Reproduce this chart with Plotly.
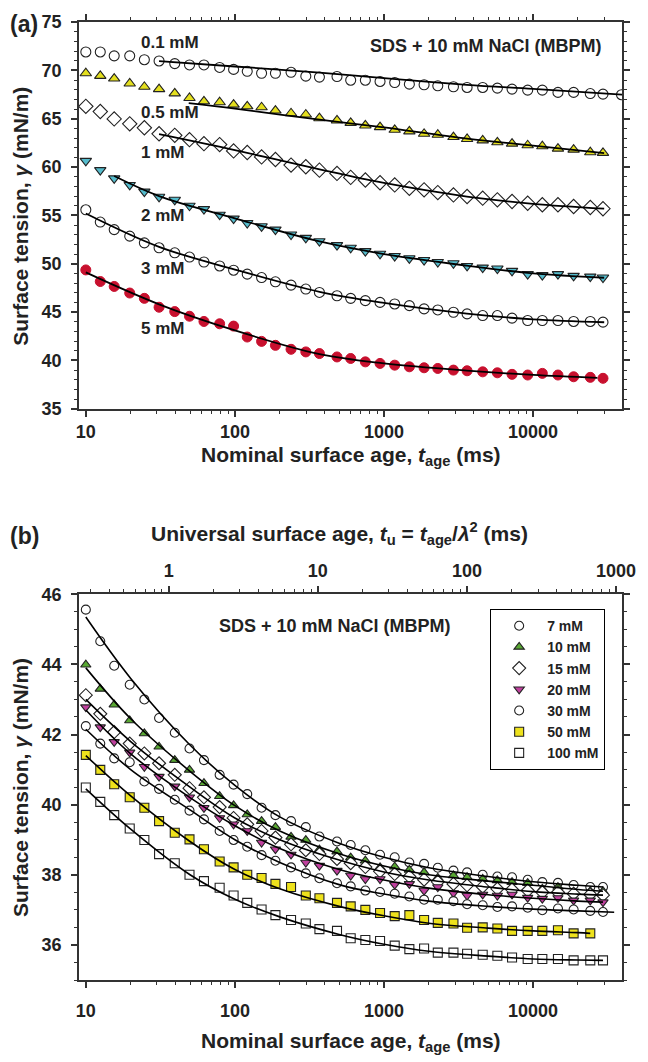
import math
import plotly.graph_objects as go

# ---------------- data ----------------
# common nominal surface-age grid (ms)
T_AGE = [10, 12.5, 15.5, 19.7, 24.7, 31, 39.5, 49.6, 62, 79, 98, 121, 151, 187, 238, 299,
         369, 484, 598, 750, 941, 1180, 1480, 1858, 2296, 2924, 3610, 4594, 5762, 7228,
         9202, 11540, 14690, 18710, 24200, 29450, 39200]
LAMBDA_SQ = 36.0

# panel (a): SDS 0.1 - 5 mM
A_01 = [71.9, 71.9, 71.5, 71.5, 71.1, 70.97, 70.7, 70.56, 70.56, 70.3, 70.1, 69.9, 69.7, 69.7,
        69.8, 69.4, 69.3, 69.36, 68.98, 68.98, 68.85, 68.74, 68.57, 68.51, 68.4, 68.3, 68.23,
        68.23, 68.16, 68.06, 67.95, 67.95, 67.72, 67.72, 67.6, 67.54, 67.48]
A_05 = [69.7, 69.43, 69.15, 68.64, 68.3, 68.06, 67.62, 67.14, 66.8, 66.7, 66.46, 66.28, 66.18,
        65.84, 65.56, 65.43, 65.05, 64.82, 64.57, 64.3, 64.13, 63.85, 63.69, 63.44, 63.34,
        63.1, 62.9, 62.76, 62.56, 62.42, 62.25, 62.15, 61.9, 61.8, 61.53, 61.46]
A_1 = [66.28, 65.74, 64.98, 64.47, 64.06, 63.44, 63.28, 62.83, 62.42, 62.32, 61.67, 61.5, 61.05,
       60.78, 60.2, 60.03, 59.68, 59.34, 58.93, 58.66, 58.38, 58.15, 57.8, 57.64, 57.36, 57.12,
       56.95, 56.78, 56.61, 56.44, 56.26, 56.1, 56.1, 55.92, 55.82, 55.69]
A_2 = [60.64, 59.68, 58.83, 58.15, 57.46, 56.92, 56.61, 56.0, 55.65, 55.07, 54.66, 54.21, 53.87,
       53.53, 53.02, 52.67, 52.33, 51.92, 51.65, 51.3, 51.03, 50.8, 50.56, 50.38, 50.18, 50.05,
       49.77, 49.6, 49.5, 49.26, 48.92, 48.82, 48.92, 48.74, 48.67, 48.57]
A_3 = [55.58, 54.31, 53.53, 52.85, 52.16, 51.65, 51.13, 50.69, 50.18, 49.77, 49.33, 48.92, 48.57,
       48.13, 47.79, 47.38, 47.03, 46.69, 46.42, 46.18, 46.0, 45.84, 45.67, 45.33, 45.22, 44.98,
       44.81, 44.64, 44.64, 44.37, 44.13, 44.13, 44.13, 44.03, 44.03, 43.96]
A_5 = [49.36, 48.16, 47.65, 46.97, 46.42, 45.5, 45.05, 44.57, 44.03, 43.79, 43.55, 42.42, 41.97,
       41.56, 41.15, 40.88, 40.71, 40.36, 40.2, 39.85, 39.69, 39.51, 39.34, 39.24, 39.17, 39.0,
       38.93, 38.82, 38.72, 38.56, 38.49, 38.66, 38.49, 38.31, 38.25, 38.15]

# fitted curves, panel (a)
FA_01_T = [31, 100, 370, 1000, 3600, 10000, 40000]
FA_01_Y = [70.95, 70.4, 69.77, 69.2, 68.5, 68.08, 67.48]
FA_05_T = [49, 100, 370, 1000, 3600, 10000, 30000]
FA_05_Y = [66.6, 66.04, 64.9, 64.1, 62.93, 62.22, 61.43]
FA_1_T = [31, 100, 370, 1000, 3600, 10000, 30000]
FA_1_Y = [63.4, 61.75, 59.75, 58.35, 56.95, 56.2, 55.7]
FA_2_T = [15.5, 31, 100, 370, 1000, 3600, 10000, 30000]
FA_2_Y = [59.07, 57.0, 54.7, 52.3, 51.0, 49.8, 49.0, 48.55]
FA_3_T = [10, 31, 100, 370, 1000, 3600, 10000, 30000]
FA_3_Y = [55.2, 51.75, 49.4, 47.1, 45.95, 44.85, 44.25, 43.95]
FA_5_T = [10, 31, 100, 370, 1000, 3600, 10000, 27000]
FA_5_Y = [49.1, 45.8, 43.1, 40.65, 39.7, 38.95, 38.5, 38.2]

# panel (b): SDS 7 - 100 mM
B_7 = [45.56, 44.66, 43.96, 43.42, 43.0, 42.47, 42.05, 41.6, 41.27, 40.85, 40.57, 40.3, 39.91,
       39.7, 39.53, 39.36, 39.09, 38.95, 38.85, 38.7, 38.57, 38.5, 38.35, 38.31, 38.2, 38.12,
       38.07, 38.0, 37.95, 37.93, 37.86, 37.79, 37.77, 37.71, 37.65, 37.65]
B_10 = [43.99, 43.3, 42.85, 42.4, 42.03, 41.65, 41.27, 40.99, 40.61, 40.24, 39.98, 39.72, 39.53,
        39.36, 39.08, 38.99, 38.72, 38.66, 38.49, 38.4, 38.21, 38.23, 38.14, 38.07, 37.91, 37.98,
        37.93, 37.88, 37.84, 37.79, 37.76, 37.6, 37.65, 37.51, 37.53, 37.53]
B_15 = [43.12, 42.59, 42.07, 41.74, 41.46, 41.18, 40.85, 40.47, 40.21, 39.93, 39.62, 39.44, 39.25,
        39.06, 38.87, 38.7, 38.59, 38.45, 38.33, 38.22, 38.1, 38.02, 37.95, 37.86, 37.8, 37.74,
        37.7, 37.66, 37.6, 37.58, 37.55, 37.5, 37.5, 37.46, 37.44, 37.42]
B_20 = [42.78, 42.21, 41.79, 41.49, 41.08, 40.8, 40.52, 40.21, 39.91, 39.62, 39.44, 39.25, 38.92,
        38.73, 38.58, 38.35, 38.26, 38.12, 37.98, 37.88, 37.88, 37.72, 37.74, 37.55, 37.65, 37.48,
        37.41, 37.44, 37.41, 37.44, 37.35, 37.32, 37.34, 37.27, 37.27, 37.22]
B_30 = [42.24, 41.74, 41.32, 41.21, 40.66, 40.45, 40.14, 39.83, 39.58, 39.25, 38.99, 38.8, 38.56,
        38.4, 38.21, 38.04, 37.9, 37.76, 37.67, 37.55, 37.51, 37.46, 37.38, 37.29, 37.29, 37.25,
        37.16, 37.13, 37.08, 37.1, 37.06, 36.99, 37.04, 37.01, 36.97, 36.94]
B_50 = [41.42, 40.99, 40.58, 40.21, 39.91, 39.53, 39.2, 39.01, 38.73, 38.38, 38.21, 38.0, 37.91,
        37.74, 37.65, 37.41, 37.33, 37.2, 37.1, 37.0, 36.91, 36.82, 36.85, 36.71, 36.63, 36.61,
        36.49, 36.5, 36.47, 36.4, 36.4, 36.4, 36.42, 36.33, 36.33]
B_100 = [40.49, 40.08, 39.7, 39.32, 38.99, 38.59, 38.33, 38.0, 37.82, 37.63, 37.41, 37.2, 37.01,
         36.85, 36.71, 36.61, 36.45, 36.4, 36.19, 36.14, 36.11, 35.98, 35.88, 35.9, 35.78, 35.78,
         35.75, 35.72, 35.69, 35.64, 35.6, 35.6, 35.6, 35.56, 35.56, 35.56]

FB_T = [10, 20, 50, 100, 200, 500, 1000, 2000, 5000, 10000, 20000, 29450]
FB_7 = [45.35, 43.6, 41.7, 40.55, 39.65, 38.9, 38.5, 38.2, 37.95, 37.8, 37.7, 37.65]
FB_10 = [43.9, 42.45, 40.95, 39.97, 39.25, 38.6, 38.25, 38.0, 37.82, 37.7, 37.58, 37.53]
FB_15 = [43.0, 41.8, 40.5, 39.62, 39.0, 38.42, 38.08, 37.85, 37.65, 37.52, 37.45, 37.42]
FB_20 = [42.7, 41.45, 40.2, 39.4, 38.75, 38.15, 37.85, 37.62, 37.43, 37.33, 37.25, 37.22]
FB_30_T = [10, 20, 50, 100, 200, 500, 1000, 2000, 5000, 10000, 20000, 35000]
FB_30 = [42.15, 41.0, 39.85, 39.0, 38.35, 37.72, 37.45, 37.25, 37.1, 37.02, 36.97, 36.93]
FB_50_T = [10, 20, 50, 100, 200, 500, 1000, 2000, 5000, 10000, 20000, 24200]
FB_50 = [41.4, 40.25, 38.95, 38.15, 37.6, 37.1, 36.83, 36.62, 36.48, 36.4, 36.35, 36.33]
FB_100 = [40.45, 39.3, 38.0, 37.3, 36.8, 36.3, 36.02, 35.82, 35.68, 35.6, 35.57, 35.56]

PANEL_A_LABELS = ["0.1 mM", "0.5 mM", "1 mM", "2 mM", "3 mM", "5 mM"]
PANEL_B_LABELS = ["7 mM", "10 mM", "15 mM", "20 mM", "30 mM", "50 mM", "100 mM"]
X_TICKS = [10, 100, 1000, 10000]
XU_TICKS = [1, 10, 100, 1000]

# ---------------- layout helpers ----------------
W, H = 648, 1062
ML, MR, MT, MB = 79, 13, 14, 82
PW, PH = W - ML - MR, H - MT - MB
FONT = "Arial, Liberation Sans, sans-serif"
INK = "#222222"
AX = "#333333"


def px(x):
    return (x - ML) / PW


def py(y):
    return (H - MB - y) / PH


def minor_log(lo, hi):
    vals = []
    d = lo
    while d < hi:
        for k in range(2, 10):
            vals.append(k * d)
        d *= 10
    return vals


fig = go.Figure()

mk_line = dict(color=INK, width=1.1)

series_a = [
    (A_01, dict(symbol="circle", color="white", line=mk_line)),
    (A_05, dict(symbol="triangle-up", color="#e4df1e", line=mk_line)),
    (A_1, dict(symbol="diamond", color="white", line=mk_line)),
    (A_2, dict(symbol="triangle-down", color="#55bccd", line=mk_line)),
    (A_3, dict(symbol="circle", color="white", line=mk_line)),
    (A_5, dict(symbol="circle", color="#c8102e", line=dict(color="#c8102e", width=1))),
]
for ys, m in series_a:
    fig.add_trace(go.Scatter(x=T_AGE[:len(ys)], y=ys, mode="markers", xaxis="x", yaxis="y",
                             marker=dict(size=10 if m["symbol"] != "diamond" else 11, **m),
                             showlegend=False, hoverinfo="skip"))

fits_a = [(FA_01_T, FA_01_Y), (FA_05_T, FA_05_Y), (FA_1_T, FA_1_Y), (FA_2_T, FA_2_Y),
          (FA_3_T, FA_3_Y), (FA_5_T, FA_5_Y)]
for ft, fy in fits_a:
    fig.add_trace(go.Scatter(x=ft, y=fy, mode="lines", xaxis="x", yaxis="y",
                             line=dict(color="black", width=1.8, shape="spline", smoothing=1.0),
                             showlegend=False, hoverinfo="skip"))

series_b = [
    (B_7, dict(symbol="circle", color="white", line=mk_line)),
    (B_10, dict(symbol="triangle-up", color="#58a832", line=mk_line)),
    (B_15, dict(symbol="diamond", color="white", line=mk_line)),
    (B_20, dict(symbol="triangle-down", color="#c0409e", line=mk_line)),
    (B_30, dict(symbol="circle", color="white", line=mk_line)),
    (B_50, dict(symbol="square", color="#eee21c", line=mk_line)),
    (B_100, dict(symbol="square", color="white", line=mk_line)),
]
for (ys, m), name in zip(series_b, PANEL_B_LABELS):
    fig.add_trace(go.Scatter(x=T_AGE[:len(ys)], y=ys, mode="markers", xaxis="x2", yaxis="y2",
                             name=name, marker=dict(size=9 if m["symbol"] != "diamond" else 10, **m),
                             hoverinfo="skip"))

fits_b = [(FB_T, FB_7), (FB_T, FB_10), (FB_T, FB_15), (FB_T, FB_20), (FB_30_T, FB_30),
          (FB_50_T, FB_50), (FB_T, FB_100)]
for ft, fy in fits_b:
    fig.add_trace(go.Scatter(x=ft, y=fy, mode="lines", xaxis="x2", yaxis="y2",
                             line=dict(color="black", width=1.6, shape="spline", smoothing=1.0),
                             showlegend=False, hoverinfo="skip"))

# dummy trace to anchor the universal-age top axis
fig.add_trace(go.Scatter(x=[XU_TICKS[0], XU_TICKS[-1]], y=[40, 40], xaxis="x3", yaxis="y2",
                         mode="markers", marker=dict(opacity=0), showlegend=False,
                         hoverinfo="skip"))

x_lo, x_hi = math.log10(9.0), math.log10(39500)
xu_lo, xu_hi = x_lo - math.log10(LAMBDA_SQ), x_hi - math.log10(LAMBDA_SQ)

tickfont = dict(family=FONT, size=18, color=INK, weight="bold")
common_x = dict(type="log", showline=True, linecolor=AX, linewidth=1.5, ticks="outside",
                ticklen=6, tickwidth=1.5, tickcolor=AX, showgrid=False, zeroline=False,
                tickfont=tickfont, tickmode="array", tickvals=X_TICKS,
                ticktext=[str(v) for v in X_TICKS],
                minor=dict(tickmode="array", tickvals=minor_log(10, 10000) + [20000, 30000],
                           ticks="outside", ticklen=3, tickwidth=1.2, tickcolor=AX))
common_y = dict(showline=True, linecolor=AX, linewidth=1.5, ticks="outside", ticklen=6,
                tickwidth=1.5, tickcolor=AX, showgrid=False, zeroline=False, tickfont=tickfont,
                ticklabelstandoff=6, mirror="ticks")

ya_dom = [py(404), 1.0]
yb_dom = [0.0, py(591)]

fig.update_layout(
    width=W, height=H,
    margin=dict(l=ML, r=MR, t=MT, b=MB),
    paper_bgcolor="white", plot_bgcolor="white",
    font=dict(family=FONT, color=INK),
    xaxis=dict(domain=[0, 1], anchor="y", range=[x_lo, x_hi], mirror="ticks",
               ticklabelstandoff=0, **common_x),
    yaxis=dict(domain=ya_dom, anchor="x", range=[35, 75], tickvals=[35, 40, 45, 50, 55, 60, 65, 70, 75],
               minor=dict(dtick=1, ticks="outside", ticklen=3, tickwidth=1.2, tickcolor=AX),
               **common_y),
    xaxis2=dict(domain=[0, 1], anchor="y2", range=[x_lo, x_hi], mirror=False,
                ticklabelstandoff=8, **common_x),
    yaxis2=dict(domain=yb_dom, anchor="x2", range=[35, 46], tickvals=[36, 38, 40, 42, 44, 46],
                minor=dict(dtick=0.5, ticks="outside", ticklen=3, tickwidth=1.2, tickcolor=AX),
                **common_y),
    xaxis3=dict(type="log", overlaying="x2", side="top", anchor="y2", range=[xu_lo, xu_hi],
                showline=True, linecolor=AX, linewidth=1.5, ticks="outside", ticklen=6,
                tickwidth=1.5, tickcolor=AX, showgrid=False, zeroline=False, tickfont=tickfont,
                tickmode="array", tickvals=XU_TICKS, ticktext=[str(v) for v in XU_TICKS],
                ticklabelstandoff=2,
                minor=dict(tickmode="array", tickvals=[0.3, 0.4, 0.5, 0.6, 0.7, 0.8, 0.9] + minor_log(1, 1000),
                           ticks="outside", ticklen=3, tickwidth=1.2, tickcolor=AX)),
    legend=dict(x=px(500), y=py(606), xanchor="left", yanchor="top", bgcolor="white",
                bordercolor="black", borderwidth=1,
                font=dict(family=FONT, size=14, color=INK, weight="bold"),
                itemwidth=46, tracegroupgap=0),
    showlegend=True,
)


def ann(text, x, y, size, xanchor="center", yanchor="middle", angle=0):
    fig.add_annotation(text=text, x=px(x), y=py(y), xref="paper", yref="paper",
                       xanchor=xanchor, yanchor=yanchor, showarrow=False, textangle=angle,
                       font=dict(family=FONT, size=size, color=INK, weight="bold"))


ann("(a)", 6, 16, 23, xanchor="left")
ann("(b)", 6, 532, 23, xanchor="left")
label_y = [35, 105, 146, 209, 263, 323]
for lab, yy in zip(PANEL_A_LABELS, label_y):
    ann(lab, 140, yy, 17, xanchor="left")
ann("SDS + 10 mM NaCl (MBPM)", 617, 38, 18, xanchor="right")
ann("SDS + 10 mM NaCl (MBPM)", 220, 623, 18, xanchor="left")
ytitle = "Surface tension, <i>γ</i> (mN/m)"
ann(ytitle, 19, 210, 21, angle=-90)
ann(ytitle, 19, 786, 21, angle=-90)
xtitle = "Nominal surface age, <i>t</i><sub>age</sub> (ms)"
ann(xtitle, 357, 452, 21)
ann(xtitle, 357, 1043, 21)
ann("Universal surface age, <i>t</i><sub>u</sub> = <i>t</i><sub>age</sub>/<i>λ</i><sup>2</sup> (ms)",
    346, 530, 21)

fig.write_html("out.html")
